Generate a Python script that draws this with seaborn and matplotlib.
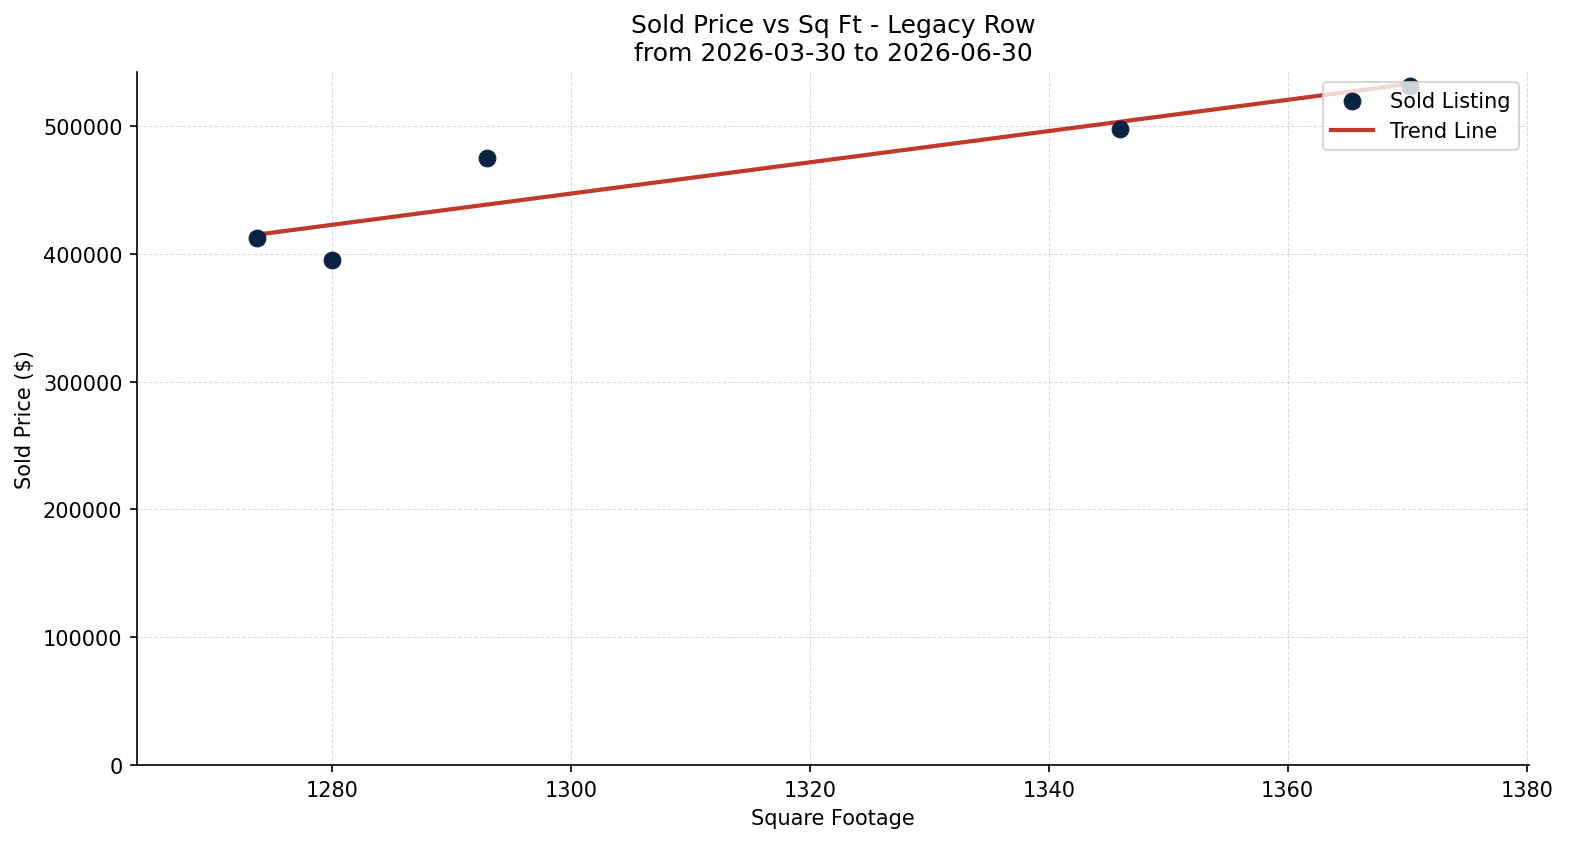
import numpy as np
import pandas as pd
import matplotlib
matplotlib.use("Agg")
import matplotlib.pyplot as plt
import seaborn as sns

# Sold listings
sq_ft = [1273.7, 1280.0, 1293.0, 1346.0, 1370.2]
sold_price = [412500, 395300, 475000, 497700, 531500]

area_name = "Legacy Row"
start_date = "2026-03-30"
end_date = "2026-06-30"

df = pd.DataFrame({"sq_ft": sq_ft, "sold_price": sold_price})

# linear trend over the observed range
slope, intercept = np.polyfit(df["sq_ft"], df["sold_price"], 1)
trend_x = np.array([df["sq_ft"].min(), df["sq_ft"].max()])
trend_df = pd.DataFrame({"sq_ft": trend_x, "sold_price": slope * trend_x + intercept})

fig, ax = plt.subplots(figsize=(10.4667, 5.6333), dpi=150)

sns.scatterplot(data=df, x="sq_ft", y="sold_price", ax=ax, color="#0b2342",
                s=65, edgecolor="#0b2342", linewidth=0.5, label="Sold Listing", zorder=3)
sns.lineplot(data=trend_df, x="sq_ft", y="sold_price", ax=ax, color="#c0392b",
             linewidth=2, label="Trend Line", zorder=2)

ax.set_xlim(df["sq_ft"].min() - 10, df["sq_ft"].max() + 10)
ax.set_ylim(0, df["sold_price"].max() * 1.02)
ax.grid(True, linestyle="--", linewidth=0.5, alpha=0.45)
ax.set_xlabel("Square Footage")
ax.set_ylabel("Sold Price ($)")
ax.set_title(f"Sold Price vs Sq Ft - {area_name}\nfrom {start_date} to {end_date}")
ax.legend(loc="upper right")
sns.despine(ax=ax)

fig.subplots_adjust(left=0.0873, right=0.9739, bottom=0.0935, top=0.9136)
plt.savefig("out.png")
